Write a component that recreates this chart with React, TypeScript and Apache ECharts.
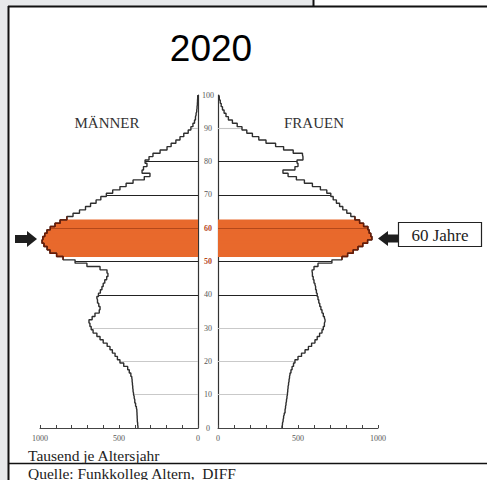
import React, { useEffect, useRef } from "react";
import * as echarts from "echarts";

// Ages 0..100 (category axis)
const ageCategories: string[] = Array.from({ length: 101 }, (_, i) => String(i));

// Thousand persons per age year
const maleValues: number[] = [
  380, 382, 384, 385, 386, 387, 390, 395, 400, 404,
  408, 411, 413, 415, 417, 419, 425, 435, 445, 470,
  494, 510, 525, 542, 557, 575, 600, 620, 640, 664,
  676, 684, 690, 670, 652, 625, 620, 628, 636, 640,
  630, 618, 608, 600, 590, 578, 570, 576, 620, 703,
  778, 854, 895, 937, 955, 975, 987, 982, 970, 956,
  935, 905, 873, 830, 791, 750, 712, 680, 645, 615,
  580, 540, 494, 455, 411, 340, 304, 354, 345, 323,
  335, 310, 285, 240, 196, 170, 140, 114, 90, 62,
  45, 32, 22, 16, 12, 8, 6, 4, 3, 2,
  1,
];

const femaleValues: number[] = [
  400, 403, 407, 410, 414, 419, 422, 425, 428, 431,
  434, 436, 438, 441, 444, 447, 450, 456, 463, 472,
  481, 500, 522, 544, 565, 585, 606, 620, 635, 650,
  658, 665, 669, 665, 658, 650, 643, 636, 630, 625,
  620, 615, 610, 606, 600, 595, 590, 588, 600, 625,
  712, 775, 810, 845, 875, 905, 935, 962, 955, 945,
  937, 910, 885, 856, 830, 805, 780, 760, 740, 720,
  705, 680, 640, 590, 540, 490, 438, 406, 481, 500,
  494, 531, 528, 470, 410, 360, 300, 255, 215, 180,
  150, 120, 90, 65, 50, 38, 28, 20, 14, 8,
  4,
];

// Highlighted cohort (orange band)
const highlightFrom = 52;
const highlightTo = 62;

// Decade lines drawn inside the pyramid
const decadeAges: number[] = [10, 20, 30, 40, 50, 60, 70, 80, 90];
const decadeColors: string[] = [
  "#c9c9c9", "#c9c9c9", "#c9c9c9", "#222222", "#222222",
  "#b4481a", "#222222", "#222222", "#c4c4c4",
];

// x-axis labelled ticks
const xLabelTicks: number[] = [0, 500, 1000];

const SERIF = "Liberation Serif";
const ORANGE = "#e8692c";

function buildSide(values: number[], gridIndex: number, name: string) {
  const band = values.map((v, i) => (i >= highlightFrom && i <= highlightTo ? v : "-"));
  const edge = values.map((v, i) => (i >= highlightFrom - 1 && i <= highlightTo + 1 ? v : "-"));
  return [
    {
      type: "bar",
      name: name + " 52–62",
      xAxisIndex: gridIndex,
      yAxisIndex: gridIndex,
      data: band,
      barWidth: 4.2,
      itemStyle: { color: ORANGE },
      z: 2,
      silent: true,
    },
    {
      type: "line",
      name: name,
      xAxisIndex: gridIndex,
      yAxisIndex: gridIndex,
      data: values,
      step: "middle",
      symbol: "none",
      lineStyle: { color: "#2e2e2e", width: 1.4 },
      z: 4,
      silent: true,
      markLine: {
        silent: true,
        symbol: ["none", "none"],
        label: { show: false },
        animation: false,
        data: decadeAges.map((a, k) => [
          { coord: [0, String(a)], lineStyle: { color: decadeColors[k], width: 1.1, type: "solid" } },
          { coord: [values[a], String(a)] },
        ]),
        z: 3,
      },
    },
    {
      type: "line",
      name: name + " edge",
      xAxisIndex: gridIndex,
      yAxisIndex: gridIndex,
      data: edge,
      step: "middle",
      symbol: "none",
      lineStyle: { color: "#6a1a05", width: 1.4 },
      z: 5,
      silent: true,
    },
  ];
}

export default function App() {
  const ref = useRef<HTMLDivElement>(null);

  useEffect(() => {
    if (!ref.current) return;
    const chart = echarts.init(ref.current, undefined, { renderer: "svg" });

    const xAxisCommon = {
      type: "value",
      min: 0,
      max: 1000,
      interval: 100,
      position: "bottom",
      axisLine: { show: true, lineStyle: { color: "#444", width: 1 } },
      axisTick: { show: true, inside: true, length: 3, lineStyle: { color: "#444" } },
      splitLine: { show: false },
      axisLabel: {
        fontFamily: SERIF,
        fontSize: 8,
        color: "#555",
        margin: 6,
        formatter: (v: number) => (xLabelTicks.includes(v) ? String(v) : ""),
      },
    };

    const option = {
      animation: false,
      backgroundColor: "#e7e9eb",
      grid: [
        { left: 40, width: 158, top: 95, height: 333 },
        { left: 218, width: 160, top: 95, height: 333 },
      ],
      xAxis: [
        { ...xAxisCommon, gridIndex: 0, inverse: true },
        { ...xAxisCommon, gridIndex: 1 },
      ],
      yAxis: [
        {
          type: "category",
          gridIndex: 0,
          data: ageCategories,
          boundaryGap: false,
          position: "right",
          axisLine: { show: true, lineStyle: { color: "#333", width: 1.2 } },
          axisTick: { show: false },
          axisLabel: { show: false },
          splitLine: { show: false },
        },
        {
          type: "category",
          gridIndex: 1,
          data: ageCategories,
          boundaryGap: false,
          position: "left",
          axisLine: { show: true, lineStyle: { color: "#333", width: 1.2 } },
          axisTick: { show: false },
          splitLine: { show: false },
          axisLabel: {
            show: true,
            interval: 9,
            margin: 10,
            align: "center",
            fontFamily: SERIF,
            fontSize: 8,
            color: "#555",
            formatter: (v: string) => (v === "50" || v === "60" ? `{o|${v}}` : v),
            rich: {
              o: { color: "#b5471c", fontFamily: SERIF, fontSize: 8, fontWeight: "bold" },
            },
          },
        },
      ],
      series: [...buildSide(maleValues, 0, "Männer"), ...buildSide(femaleValues, 1, "Frauen")],
      graphic: [
        { type: "rect", shape: { x: 9, y: 7, width: 478, height: 473 }, style: { fill: "#ffffff" }, z: -10 },
        { type: "rect", shape: { x: 314, y: 0, width: 173, height: 7 }, style: { fill: "#ffffff" }, z: -10 },
        { type: "line", shape: { x1: 8, y1: 6.5, x2: 487, y2: 6.5 }, style: { stroke: "#111", lineWidth: 2 } },
        { type: "line", shape: { x1: 8.5, y1: 6, x2: 8.5, y2: 480 }, style: { stroke: "#111", lineWidth: 2 } },
        { type: "line", shape: { x1: 313.5, y1: 0, x2: 313.5, y2: 7 }, style: { stroke: "#111", lineWidth: 2 } },
        { type: "line", shape: { x1: 9, y1: 463.5, x2: 487, y2: 463.5 }, style: { stroke: "#111", lineWidth: 1.5 } },
        {
          type: "text",
          x: 211,
          y: 48,
          style: { text: "2020", fontFamily: "Liberation Sans", fontSize: 37, fill: "#000", align: "center", verticalAlign: "middle" },
        },
        {
          type: "text",
          x: 107,
          y: 123,
          style: { text: "MÄNNER", fontFamily: SERIF, fontSize: 15, fill: "#333", align: "center", verticalAlign: "middle" },
        },
        {
          type: "text",
          x: 314,
          y: 123,
          style: { text: "FRAUEN", fontFamily: SERIF, fontSize: 15, fill: "#333", align: "center", verticalAlign: "middle" },
        },
        {
          type: "text",
          x: 28,
          y: 455,
          style: { text: "Tausend je Altersjahr", fontFamily: SERIF, fontSize: 15.5, fill: "#222", align: "left", verticalAlign: "middle" },
        },
        {
          type: "text",
          x: 28,
          y: 473,
          style: { text: "Quelle: Funkkolleg Altern,  DIFF", fontFamily: SERIF, fontSize: 15.5, fill: "#222", align: "left", verticalAlign: "middle" },
        },
        {
          type: "polygon",
          shape: { points: [[15, 235], [27, 235], [27, 231], [37, 239], [27, 247], [27, 243], [15, 243]] },
          style: { fill: "#1e1e1e" },
        },
        {
          type: "polygon",
          shape: { points: [[378, 238.5], [388, 231], [388, 234.5], [398, 234.5], [398, 242.5], [388, 242.5], [388, 246]] },
          style: { fill: "#1e1e1e" },
        },
        {
          type: "rect",
          shape: { x: 398.5, y: 222.5, width: 83, height: 24 },
          style: { fill: "#ffffff", stroke: "#222", lineWidth: 1.2 },
        },
        {
          type: "text",
          x: 440,
          y: 235,
          style: { text: "60 Jahre", fontFamily: SERIF, fontSize: 17, fill: "#222", align: "center", verticalAlign: "middle" },
        },
      ],
    };

    chart.setOption(option as any);
    return () => chart.dispose();
  }, []);

  return (
    <div
      ref={ref}
      style={{ position: "fixed", left: 0, top: 0, width: 487, height: 480 }}
    />
  );
}
